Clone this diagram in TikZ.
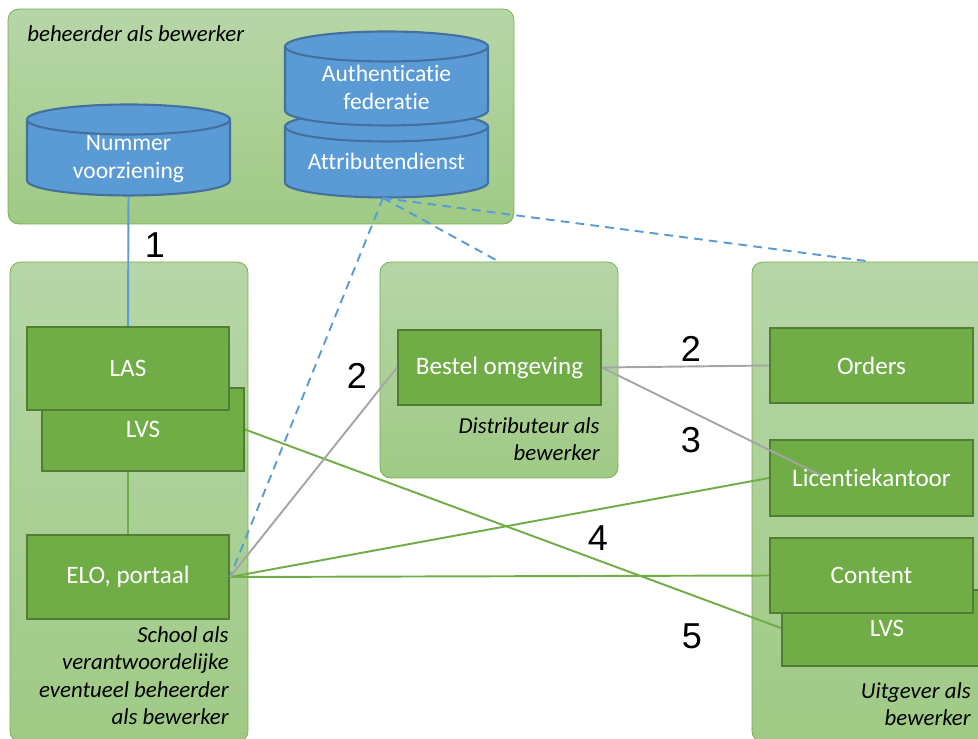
\documentclass[tikz,border=0pt]{standalone}
\usepackage{fontspec}
\setmainfont[Ligatures=NoCommon]{Carlito}
\newfontfamily\numfont{Liberation Sans}
\usetikzlibrary{shapes.geometric}
\definecolor{panelrand}{HTML}{70AD47}
\definecolor{paneltop}{HTML}{B7D6A8}
\definecolor{panelbot}{HTML}{9FCA85}
\definecolor{boxgreen}{HTML}{70AD47}
\definecolor{boxrand}{HTML}{507E32}
\definecolor{dbblue}{HTML}{5B9BD5}
\definecolor{dbrand}{HTML}{41719C}
\definecolor{lijngrijs}{HTML}{A5A5A5}
\newcommand{\dbvulling}{\rule{4cm}{0pt}}
\tikzset{
  panel/.style={draw=panelrand,top color=paneltop,bottom color=panelbot,rounded corners=6pt,inner sep=0pt},
  appbox/.style={draw=boxrand,line width=1.2pt,fill=boxgreen,text=white,inner sep=0pt,font=\fontsize{14.3}{15.5}\selectfont},
  dbase/.style={cylinder,shape border rotate=90,shape aspect=0.15,draw=dbrand,line width=1.2pt,cylinder uses custom fill,
    cylinder body fill=dbblue,cylinder end fill=dbblue,inner sep=0pt},
  dbtekst/.style={text=white,align=center,inner sep=0pt,font=\fontsize{13.4}{15.5}\selectfont},
  rol/.style={font=\fontsize{13}{15.6}\selectfont\itshape,inner sep=0pt},
  nummer/.style={font=\fontsize{20.5}{24}\selectfont\numfont,inner sep=0pt},
  blauw/.style={dbblue,line width=1.1pt},
  blauwstreep/.style={dbblue,line width=1.1pt,dash pattern=on 5pt off 3.5pt},
  grijs/.style={lijngrijs,line width=1.1pt},
  groen/.style={boxgreen,line width=1.1pt}
}
\begin{document}
\begin{tikzpicture}[x=0.02cm,y=-0.02cm]
  \path[use as bounding box,clip] (0,0) rectangle (978,738);

  \node[panel,minimum width=10.12cm,minimum height=4.3cm] (beheer) at (261,116.5) {};
  \node[panel,minimum width=4.76cm,minimum height=9.6cm] (school) at (129,502) {};
  \node[panel,minimum width=4.76cm,minimum height=4.32cm] (distr) at (499,370) {};
  \node[panel,minimum width=5cm,minimum height=9.6cm] (uitgever) at (877,502) {};

  \node[rol,anchor=west] (lbeheer) at (27,34) {beheerder als bewerker};
  \node[rol,anchor=north east,align=right] (lschool) at (229,626) {School als\\verantwoordelijke\\eventueel beheerder\\als bewerker};
  \node[rol,anchor=north east,align=right] (ldistr) at (600,417) {Distributeur als\\bewerker};
  \node[rol,anchor=north east,align=right] (luitgever) at (971,682) {Uitgever als\\bewerker};

  \node[dbase,minimum height=1.82cm,minimum width=4.06cm] (nummervz) at (128.5,158) {\dbvulling};
  \node[dbase,minimum height=1.72cm,minimum width=4.06cm] (attr) at (386.5,162.5) {\dbvulling};
  \node[dbase,minimum height=1.88cm,minimum width=4.06cm] (auth) at (386.5,86.5) {\dbvulling};
  \node[dbtekst] (tnummer) at (128.5,159) {Nummer\\voorziening};
  \node[dbtekst] (tattr) at (386.5,161) {Attributendienst};
  \node[dbtekst] (tauth) at (386.5,87.5) {Authenticatie\\federatie};

  \node[appbox,minimum width=4.04cm,minimum height=1.66cm] (lvs) at (143,429.5) {LVS};
  \node[appbox,minimum width=4.04cm,minimum height=1.66cm] (las) at (128,368.5) {LAS};
  \node[appbox,minimum width=4.04cm,minimum height=1.68cm] (elo) at (128,577) {ELO, portaal};
  \node[appbox,minimum width=4.06cm,minimum height=1.5cm] (bestel) at (499.5,367.5) {Bestel omgeving};
  \node[appbox,minimum width=4.06cm,minimum height=1.5cm] (orders) at (871.5,365.5) {Orders};
  \node[appbox,minimum width=4.06cm,minimum height=1.52cm] (licentie) at (871.5,478) {Licentiekantoor};
  \node[appbox,minimum width=4.2cm,minimum height=1.52cm] (lvsuit) at (887,628) {LVS};
  \node[appbox,minimum width=4.06cm,minimum height=1.5cm] (content) at (871.5,575.5) {Content};

  \coordinate (eindlic) at (822,476);
  \coordinate (eindattr) at (383,198);

  \draw[blauw] (nummervz.south) -- (las.north);
  \draw[blauwstreep] (eindattr) -- (elo.east);
  \draw[blauwstreep] (eindattr) -- (distr.north);
  \draw[blauwstreep] (eindattr) -- (uitgever.north -| orders.north);

  \draw[groen] (lvs.south -| elo.north) -- (elo.north);
  \draw[groen] (lvs.east) -- (lvsuit.west);
  \draw[groen] (elo.east) -- (licentie.west);
  \draw[groen] (elo.east) -- (content.west);
  \draw[grijs] (elo.east) -- (bestel.west);
  \draw[grijs] (bestel.east) -- (orders.west);
  \draw[grijs] (bestel.east) -- (eindlic);

  \node[nummer] (n1) at (155,245) {1};
  \node[nummer] (n2a) at (357,376) {2};
  \node[nummer] (n2b) at (691,349) {2};
  \node[nummer] (n3) at (691,440) {3};
  \node[nummer] (n4) at (598,538) {4};
  \node[nummer] (n5) at (692,636) {5};
\end{tikzpicture}
\end{document}
